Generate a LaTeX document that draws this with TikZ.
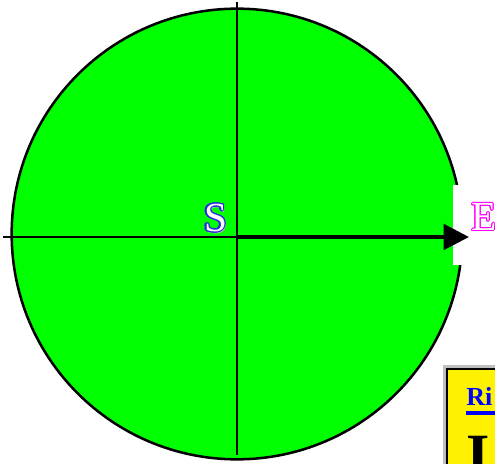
\documentclass[tikz,border=0pt]{standalone}
\usepackage{fontspec}
\setmainfont{Liberation Serif}
\usepackage{contour}
\usetikzlibrary{arrows.meta}
\definecolor{discgreen}{RGB}{0,255,0}
\definecolor{letterblue}{RGB}{40,40,230}
\definecolor{letterpink}{RGB}{255,0,255}

\begin{document}
\begin{tikzpicture}[
            x=0.75pt, y=-0.75pt,
            disc/.style={
                    circle,
                    draw,
                    line width=1.9pt,
                    fill=discgreen,
                    minimum size=338pt,
                    inner sep=0pt
                },
            axis/.style={
                    line width=1.2pt,
                    black
                },
            heavy/.style={
                    -{Triangle[length=19pt,width=19pt]},
                    line width=3pt,
                    black
                },
            letter/.style={
                    font=\fontsize{31}{31}\selectfont,
                    inner sep=0pt
                }
        ]
        \useasboundingbox (0,0) rectangle (495,463);

        \node[disc] (disc) at (237,234) {};

        \node[fill=white, anchor=north west, minimum width=32pt,
            minimum height=60pt, inner sep=0pt] (ebox) at (453,185) {};

        \coordinate (top) at (237,2);
        \coordinate (bottom) at (237,455);
        \coordinate (left) at (3,237);
        \coordinate (origin) at (237,237);
        \coordinate (tip) at (469,237);

        \draw[axis] (top) -- (bottom);
        \draw[axis] (left) -- (origin);
        \draw[heavy] (origin) -- (tip);

        % labels
        \node[letter, text=gray!60] (sshadow) at (217,220.5) {S};
        \contourlength{0.9pt}
        \node[letter] (slabel) at (215.5,218.5) {\contour{letterblue}{\textcolor{white}{S}}};
        \contourlength{0.6pt}
        \node[letter] (elabel) at (484,217.5) {\contour{letterpink}{\textcolor{white}{E}}};

        % info box
        \node[fill=gray!50, anchor=north west, minimum width=60pt,
            minimum height=80pt, inner sep=0pt] (infoshadow) at (443,365) {};
        \node[draw, fill=yellow, line width=1.5pt, anchor=north west,
            minimum width=60pt, minimum height=80pt, inner sep=0pt] (infobox) at (446,368) {};
        \node[anchor=base west, inner sep=0pt, text=blue,
            font=\fontsize{19.5}{19.5}\selectfont\bfseries] (link) at (466,405) {Ri};
        \draw[blue, line width=3pt] ([yshift=-6pt]link.base west) -- ([yshift=-6pt,xshift=10pt]link.base east);
        \node[anchor=base west, inner sep=0pt,
            font=\fontsize{45}{45}\selectfont\bfseries] (bigi) at (466,475) {I};
    \end{tikzpicture}
\end{document}
